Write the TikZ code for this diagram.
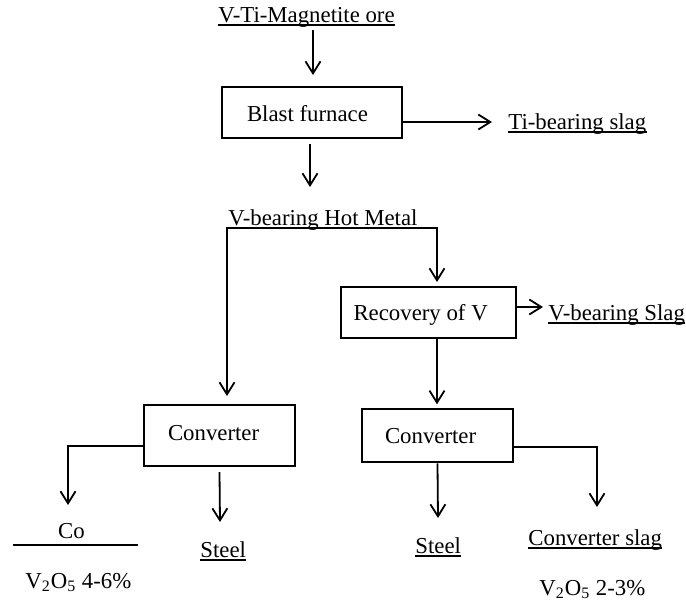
\documentclass[tikz,border=0pt]{standalone}
\usepackage{fontspec}
\setmainfont{Liberation Serif}
\usetikzlibrary{arrows.meta}
\begin{document}
\begin{tikzpicture}[x=0.5pt,y=-0.5pt,
  every node/.style={font=\fontsize{11.4pt}{13pt}\selectfont, inner sep=0pt},
  box/.style={draw, line width=1pt, inner ysep=0pt, text depth=0pt},
  lbl/.style={anchor=base west},
  conn/.style={line width=0.9pt},
  barb/.tip={Straight Barb[length=6pt,width=7.5pt]},
  arr/.style={conn, -barb},
  ul/.style={line width=0.8pt}]
\useasboundingbox (0,0) rectangle (686,602);
% nodes
\node[lbl] (ore) at (218,22) {V-Ti-Magnetite ore};
\node[box, inner xsep=12.5pt, minimum height=25.5pt, text height=9pt] (blast) at (312,112.5) {\makebox[65pt][l]{Blast furnace}};
\node[lbl] (ti) at (508,129) {Ti-bearing slag};
\node[lbl] (hot) at (228,225) {V-bearing Hot Metal};
\node[box, inner xsep=6.25pt, minimum height=25.5pt, text height=7.5pt] (rec) at (428.5,312.5) {\makebox[75pt][l]{Recovery of V}};
\node[lbl] (vslag) at (548,320) {V-bearing Slag};
\node[box, inner xsep=12pt, minimum height=30.5pt, text height=4.5pt] (conv1) at (219.5,435.5) {\makebox[51.5pt][l]{Converter}};
\node[box, inner xsep=11.5pt, minimum height=26.5pt, text height=7.2pt] (conv2) at (437.5,435.8) {\makebox[52.5pt][l]{Converter}};
\node[lbl] (steel1) at (200,557) {Steel};
\node[lbl] (steel2) at (415,553) {Steel};
\node[lbl] (cslag) at (528,545) {Converter slag};
\node[anchor=base] (co) at (71.5,538) {Co};
\node[lbl] (v1) at (25,588) {V\textsubscript{2}O\textsubscript{5} 4-6\%};
\node[lbl] (v2) at (539,595) {V\textsubscript{2}O\textsubscript{5} 2-3\%};
% underlines
\foreach \n in {ore,ti,vslag,steel1,steel2,cslag}
  \draw[ul] ([yshift=-1.6pt]\n.base west) -- ([yshift=-1.6pt]\n.base east);
% coordinates
\coordinate (a1s) at (313,30);
\coordinate (a1e) at (313,75);
\coordinate (tiarr) at (492,122);
\coordinate (hotarr) at (310,187);
\coordinate (j1) at (227,228);
\coordinate (j2) at (437,228);
\coordinate (vsarr) at (543,307);
\coordinate (s2arr) at (438,518);
\coordinate (csarr) at (597,507);
\coordinate (coarr) at (68,505);
\coordinate (s1arr) at (220,522);
\coordinate (cl1) at (13,545);
\coordinate (cl2) at (138,545);
% connectors
\draw[arr] (a1s) -- (a1e);
\draw[arr] ([yshift=-4.75pt]blast.east) -- (tiarr);
\draw[arr] ([xshift=-1pt,yshift=-2.5pt]blast.south) -- (hotarr);
\draw[conn, barb-barb, shorten <=4pt, shorten >=2pt] (conv1.north -| j1) -- (j1) -- (j2) -- (rec.north -| j2);
\draw[arr] ([yshift=2.75pt]rec.east) -- (vsarr);
\draw[arr, shorten >=2pt] (rec.south -| j2) -- (conv2.north -| j2);
\draw[arr] (conv2.south) -- (s2arr);
\draw[arr] ([yshift=-5.6pt]conv2.east) -| (csarr);
\draw[arr] ([yshift=-5.25pt]conv1.west) -| (coarr);
\draw[arr] ([yshift=-2.5pt]conv1.south) -- (s1arr);
\draw[conn] (cl1) -- (cl2);
\end{tikzpicture}
\end{document}
